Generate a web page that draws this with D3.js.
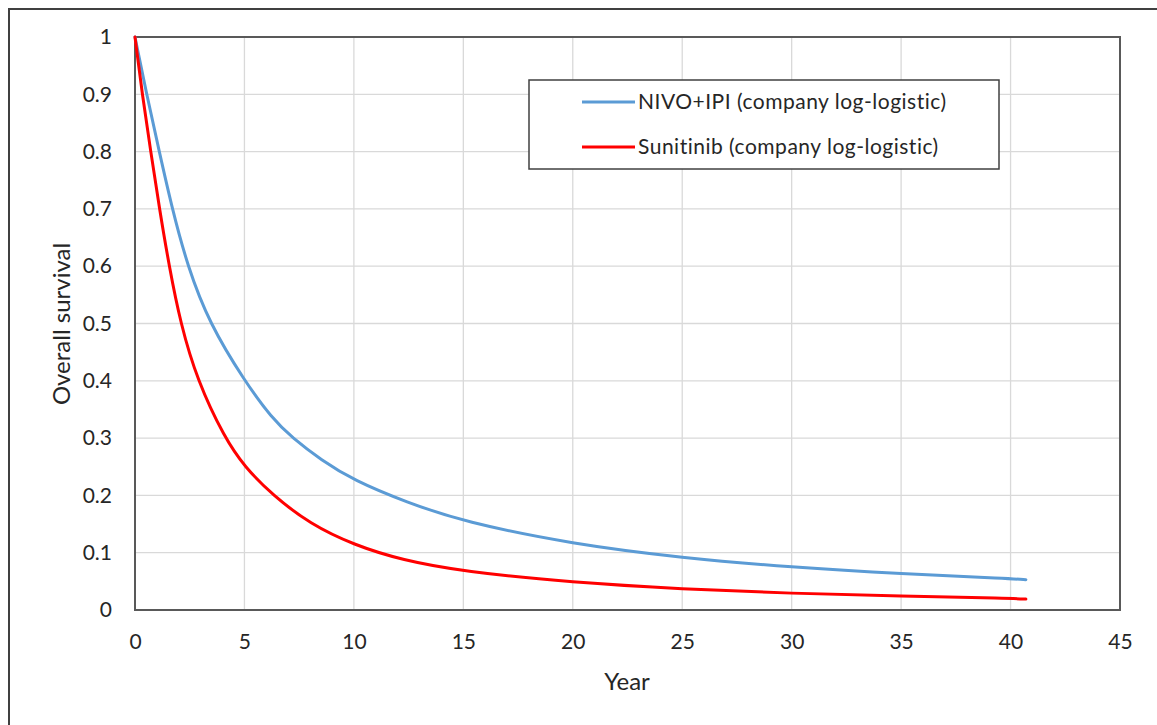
<!DOCTYPE html>
<html>
<head>
<meta charset="utf-8">
<script src="https://cdn.jsdelivr.net/npm/d3@7"></script>
<style>
  html, body { margin: 0; padding: 0; background: #fff; }
  svg { display: block; }
  text { font-family: Lato, "Open Sans", sans-serif; fill: #262626; }
</style>
</head>
<body>
<svg id="chart" width="1157" height="725"></svg>
<script>
// Survival curves: [year, overall survival]
const nivoIpi = [
  [0, 1], [0.53, 0.9], [1.11, 0.8], [1.7, 0.7], [2.4, 0.6], [3.4, 0.5],
  [5, 0.4], [6.25, 0.335], [7.2, 0.3], [8.5, 0.262], [10, 0.226],
  [12.4, 0.188], [15, 0.154], [20, 0.115], [25, 0.091], [30, 0.0745],
  [35, 0.063], [40, 0.0547], [40.7, 0.053]
];
const sunitinib = [
  [0, 1], [0.33, 0.9], [0.72, 0.8], [1.12, 0.7], [1.56, 0.6], [2.08, 0.5],
  [2.85, 0.4], [4.1, 0.3], [5, 0.25], [6.3, 0.2], [8, 0.15],
  [10, 0.1135], [12.2, 0.087], [15, 0.067], [20, 0.048], [25, 0.0367],
  [30, 0.029], [35, 0.024], [40, 0.0205], [40.7, 0.019]
];
const seriesNames = ["NIVO+IPI (company log-logistic)", "Sunitinib (company log-logistic)"];
const seriesColors = ["#5b9bd5", "#ff0000"];
const xTicks = [0, 5, 10, 15, 20, 25, 30, 35, 40, 45];
const yTicks = [0, 0.1, 0.2, 0.3, 0.4, 0.5, 0.6, 0.7, 0.8, 0.9, 1];

const svg = d3.select("#chart");

// outer frame
svg.append("path")
  .attr("d", "M9,725 L9,9 L1157,9")
  .attr("fill", "none").attr("stroke", "#404040").attr("stroke-width", 2);

const plot = { left: 135, right: 1120, top: 37, bottom: 610 };
const x = d3.scaleLinear().domain([0, 45]).range([plot.left, plot.right]);
const y = d3.scaleLinear().domain([0, 1]).range([plot.bottom, plot.top]);

// gridlines
const grid = svg.append("g").attr("stroke", "#d9d9d9").attr("stroke-width", 1.3);
grid.selectAll(".vx").data(xTicks).join("line")
  .attr("x1", d => x(d)).attr("x2", d => x(d))
  .attr("y1", plot.top).attr("y2", plot.bottom);
grid.selectAll(".hy").data(yTicks).join("line")
  .attr("x1", plot.left).attr("x2", plot.right)
  .attr("y1", d => y(d)).attr("y2", d => y(d));

// plot frame
svg.append("rect")
  .attr("x", plot.left).attr("y", plot.top)
  .attr("width", plot.right - plot.left).attr("height", plot.bottom - plot.top)
  .attr("fill", "none").attr("stroke", "#595959").attr("stroke-width", 2);

// axes
const xAxis = d3.axisBottom(x).tickValues(xTicks).tickSize(0).tickPadding(24).tickFormat(d3.format("d"));
const yAxis = d3.axisLeft(y).tickValues(yTicks).tickSize(0).tickPadding(23)
  .tickFormat(d => d === 0 || d === 1 ? String(d) : d3.format(".1f")(d));

const gx = svg.append("g").attr("transform", `translate(0,${plot.bottom})`).call(xAxis);
const gy = svg.append("g").attr("transform", `translate(${plot.left},0)`).call(yAxis);
[gx, gy].forEach(g => {
  g.select(".domain").remove();
  g.selectAll("text").style("font-family", "Lato, 'Open Sans', sans-serif")
    .style("font-size", "21px").attr("fill", "#262626");
});

// survival curves
const line = d3.line().x(d => x(d[0])).y(d => y(d[1])).curve(d3.curveBasis);
[nivoIpi, sunitinib].forEach((data, i) => {
  svg.append("path").datum(data)
    .attr("d", line)
    .attr("fill", "none")
    .attr("stroke", seriesColors[i])
    .attr("stroke-width", 3)
    .attr("stroke-linejoin", "round")
    .attr("stroke-linecap", "round");
});

// axis titles
svg.append("text")
  .attr("x", 627).attr("y", 690)
  .attr("text-anchor", "middle")
  .style("font-size", "24px")
  .text("Year");
svg.append("text")
  .attr("transform", "translate(70,324) rotate(-90)")
  .attr("text-anchor", "middle")
  .style("font-size", "24px")
  .text("Overall survival");

// legend
const legend = svg.append("g");
legend.append("rect")
  .attr("x", 529).attr("y", 80).attr("width", 470).attr("height", 89)
  .attr("fill", "#fff").attr("stroke", "#404040").attr("stroke-width", 1.5);
const ly = [102, 147];
seriesNames.forEach((name, i) => {
  legend.append("line")
    .attr("x1", 582).attr("x2", 635)
    .attr("y1", ly[i]).attr("y2", ly[i])
    .attr("stroke", seriesColors[i]).attr("stroke-width", 3);
  legend.append("text")
    .attr("x", 638).attr("y", ly[i])
    .attr("dy", "0.35em")
    .style("font-size", "21px")
    .style("letter-spacing", "0.5px")
    .text(name);
});
</script>
</body>
</html>
